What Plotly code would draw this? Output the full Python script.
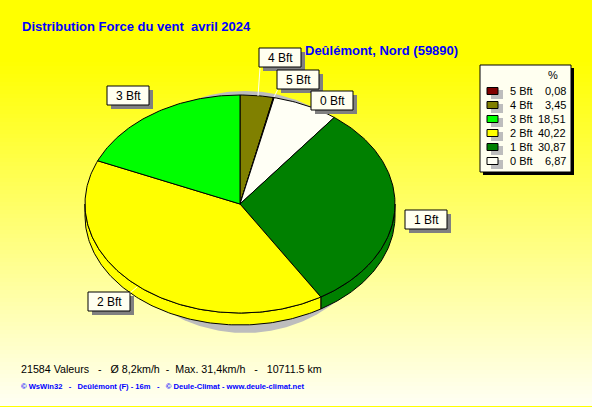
import numpy as np
import plotly.graph_objects as go

# values, clockwise from 12 o'clock
slice_names = ['4 Bft', '5 Bft', '0 Bft', '1 Bft', '2 Bft', '3 Bft']
slice_values = [3.45, 0.08, 6.87, 30.87, 40.22, 18.51]
slice_colors = ['#808000', '#800000', '#FFFFF5', '#008000', '#FFFF00', '#00FF00']

legend_names = ['5 Bft', '4 Bft', '3 Bft', '2 Bft', '1 Bft', '0 Bft']
legend_values = ['0,08', '3,45', '18,51', '40,22', '30,87', '6,87']
legend_colors = ['#800000', '#808000', '#00FF00', '#FFFF00', '#008000', '#FFFFF5']

# label boxes: name, left, top, leader line
label_boxes = [
    ('4 Bft', 259, 48, (260, 68, 258, 96)),
    ('5 Bft', 277, 70, (278, 89, 274, 97)),
    ('0 Bft', 311, 91, None),
    ('3 Bft', 107, 86, None),
    ('1 Bft', 405, 210, None),
    ('2 Bft', 88, 292, (130, 293, 137, 287)),
]

WIDTH, HEIGHT = 592, 407
CX, CY, RX, RY, DEPTH = 240, 204, 155, 109, 12
PALE = '#FFFFF0'
LABEL_FONT = 'Liberation Sans'


def arc(t0, t1, dy=0, cx=CX, cy=CY, rx=RX, ry=RY):
    t = np.linspace(t0, t1, max(int(abs(t1 - t0) * 60), 2))
    return cx + rx * np.sin(t), cy + dy - ry * np.cos(t)


def polygon(x, y, color, line_color='black', line_width=1):
    return go.Scatter(x=x, y=y, mode='lines', fill='toself', fillcolor=color,
                      line=dict(color=line_color, width=line_width),
                      hoverinfo='skip', showlegend=False)


fig = go.Figure()

# background gradient
grad_y = np.arange(0, HEIGHT + 1, 4)
fig.add_trace(go.Heatmap(
    x=[0, WIDTH], y=grad_y, z=[[v, v] for v in grad_y], showscale=False, hoverinfo='skip',
    zmin=0, zmax=HEIGHT,
    colorscale=[[0, '#FFFF00'], [0.15, '#FFFF00'], [1, '#FFFFF5']],
))

# drop shadow under the pie
sx, sy = arc(0, 2 * np.pi, cx=245, cy=212, rx=135, ry=121)
fig.add_trace(polygon(sx, sy, '#BDBDBD', '#BDBDBD', 0))

# wedges: side walls first, then the top faces
total = sum(slice_values)
edges = 2 * np.pi * np.cumsum([0] + slice_values) / total

for i, color in enumerate(slice_colors):
    t0 = max(edges[i], np.pi / 2)
    t1 = min(edges[i + 1], 3 * np.pi / 2)
    if t1 <= t0:
        continue
    x_top, y_top = arc(t0, t1)
    x_low, y_low = arc(t1, t0, dy=DEPTH)
    fig.add_trace(polygon(np.r_[x_top, x_low, x_top[0]], np.r_[y_top, y_low, y_top[0]], color))

for i, color in enumerate(slice_colors):
    x, y = arc(edges[i], edges[i + 1])
    fig.add_trace(polygon(np.r_[CX, x, CX], np.r_[CY, y, CY], color))

shapes = []
annotations = []


def rect(x0, y0, x1, y1, fill, line=None):
    shapes.append(dict(type='rect', xref='x', yref='y', x0=x0, y0=y0, x1=x1, y1=y1,
                       fillcolor=fill, line=dict(color=line or fill, width=1 if line else 0)))


def text(x, y, s, size=11, color='black', anchor='left', family=LABEL_FONT, bold=False):
    annotations.append(dict(xref='x', yref='y', x=x, y=y, text=f'<b>{s}</b>' if bold else s,
                            showarrow=False, xanchor=anchor, yanchor='middle',
                            font=dict(family=family, size=size, color=color),
                            borderpad=0, borderwidth=0))


# label boxes with their leaders
for name, left, top, leader in label_boxes:
    if leader:
        shapes.append(dict(type='line', xref='x', yref='y', x0=leader[0], y0=leader[1],
                           x1=leader[2], y1=leader[3], line=dict(color='#FFFFF0', width=1)))
    rect(left + 4, top + 4, left + 46, top + 23, '#808080')
    rect(left, top, left + 42, top + 19, PALE, 'black')
    text(left + 21, top + 9.5, name, size=12, anchor='center')

# legend
rect(483, 68, 574, 175, 'black')
rect(480, 65, 571, 172, PALE, 'black')
text(553, 75, '%', anchor='center')
for i, (name, value, color) in enumerate(zip(legend_names, legend_values, legend_colors)):
    row_y = 91 + i * 14
    rect(491, row_y - 1, 503, row_y + 8, '#BDBDBD')
    rect(487, row_y - 3.5, 498, row_y + 3.5, color, 'black')
    text(510, row_y, name)
    text(566, row_y, value, anchor='right')

# titles and footer
text(22, 26, 'Distribution Force du vent  avril 2024', size=13, color='#0000FF', bold=True)
text(305, 50, 'Deûlémont, Nord (59890)', size=13, color='#0000FF', bold=True)
text(21, 369, '21584 Valeurs   -   Ø 8,2km/h  -  Max. 31,4km/h   -   10711.5 km', size=10.7)
text(21, 386, '© WsWin32   -   Deûlémont (F) - 16m   -   © Deule-Climat - www.deule-climat.net',
     size=7.6, color='#0000FF', bold=True)

fig.update_layout(
    width=WIDTH, height=HEIGHT,
    margin=dict(l=0, r=0, t=0, b=0),
    paper_bgcolor='#FFFF00', plot_bgcolor='rgba(0,0,0,0)',
    showlegend=False, hovermode=False,
    shapes=shapes, annotations=annotations,
    xaxis=dict(range=[0, WIDTH], visible=False, fixedrange=True),
    yaxis=dict(range=[HEIGHT, 0], visible=False, fixedrange=True),
)

fig.write_html("out.html", config={'displayModeBar': False},
               post_script="document.body.style.margin='0';")
